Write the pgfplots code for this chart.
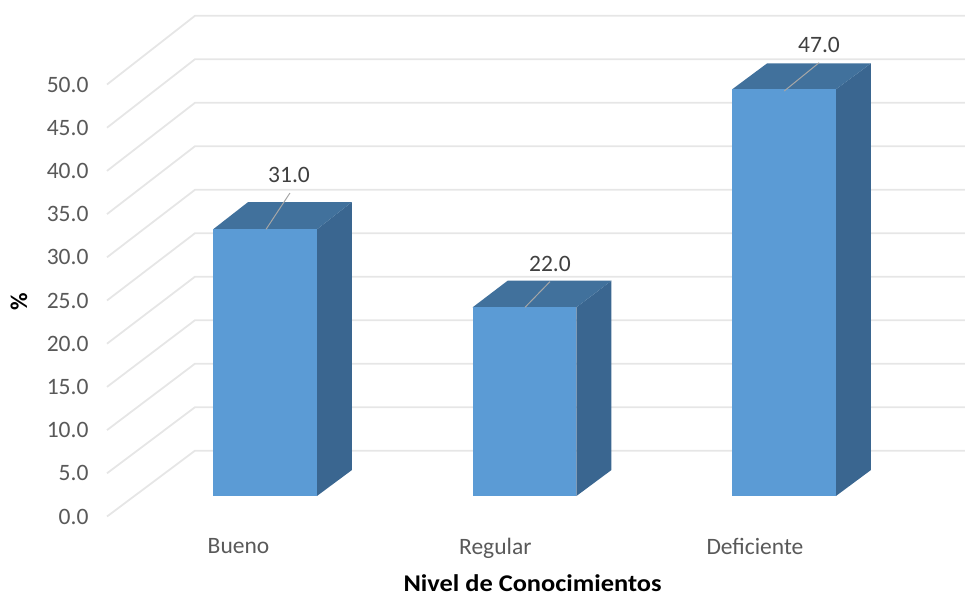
\documentclass[border=0pt]{standalone}
\usepackage{fontspec}
\setmainfont{Carlito}
\usepackage{pgfplots}
\pgfplotsset{compat=1.18}
\definecolor{barfront}{HTML}{5B9BD5}
\definecolor{bartop}{HTML}{41719C}
\definecolor{barside}{HTML}{3A6690}
\definecolor{gridc}{HTML}{E6E6E6}
\definecolor{ticktext}{HTML}{595959}
\definecolor{labtext}{HTML}{404040}
\definecolor{leader}{HTML}{A6A6A6}
\begin{document}
\begin{tikzpicture}
\path[use as bounding box] (0,0) rectangle (965pt,593pt);
\begin{axis}[
    at={(107pt,76.5pt)},
    anchor=south west,
    scale only axis,
    width=858pt,
    height=502.3pt,
    xmin=-0.6089, xmax=2.6975,
    ymin=0, ymax=58.14,
    clip=false,
    axis line style={draw=none},
    major tick length=0pt,
    xtick={-0.1021,0.8875,1.888},
    xticklabels={Bueno,Regular,Deficiente},
    ytick={0,5,...,50},
    /pgf/number format/assume math mode=true,
    /pgf/number format/fixed,
    /pgf/number format/fixed zerofill,
    /pgf/number format/precision=1,
    tick label style={font=\fontsize{23.5}{26}\selectfont, text=ticktext},
    y tick label style={xshift=-15pt},
    x tick label style={yshift=-18.5pt},
    xlabel={Nivel de Conocimientos},
    ylabel={\%},
    label style={font=\fontsize{24}{26}\selectfont\bfseries, text=black},
    xlabel style={at={(axis description cs:0.496,-0.1503)}, anchor=base, xscale=1.1},
    ylabel style={at={(axis description cs:-0.1026,0.427)}, anchor=center},
    unbounded coords=jump,
]
% gridlines: side wall then back wall
\addplot[gridc, line width=1.8pt] coordinates {
 (-0.6089,0) (-0.2697,7.62) (2.6975,7.62) (0,nan)
 (-0.6089,5) (-0.2697,12.65) (2.6975,12.65) (0,nan)
 (-0.6089,10) (-0.2697,17.69) (2.6975,17.69) (0,nan)
 (-0.6089,15) (-0.2697,22.72) (2.6975,22.72) (0,nan)
 (-0.6089,20) (-0.2697,27.76) (2.6975,27.76) (0,nan)
 (-0.6089,25) (-0.2697,32.79) (2.6975,32.79) (0,nan)
 (-0.6089,30) (-0.2697,37.82) (2.6975,37.82) (0,nan)
 (-0.6089,35) (-0.2697,42.86) (2.6975,42.86) (0,nan)
 (-0.6089,40) (-0.2697,47.89) (2.6975,47.89) (0,nan)
 (-0.6089,45) (-0.2697,52.93) (2.6975,52.93) (0,nan)
 (-0.6089,50) (-0.2697,57.96) (2.6975,57.96)
};
% Bueno 31.0
\addplot[fill=barside, draw=none] coordinates {(0.2,2.37) (0.335,5.38) (0.335,36.4) (0.2,33.24)} --cycle;
\addplot[fill=bartop, draw=none] coordinates {(-0.2,33.24) (0.2,33.24) (0.335,36.4) (-0.065,36.4)} --cycle;
\addplot[fill=barfront, draw=none] coordinates {(-0.2,2.37) (0.2,2.37) (0.2,33.24) (-0.2,33.24)} --cycle;
% Regular 22.0
\addplot[fill=barside, draw=none] coordinates {(1.2,2.37) (1.335,5.38) (1.335,27.29) (1.2,24.21)} --cycle;
\addplot[fill=bartop, draw=none] coordinates {(0.8,24.21) (1.2,24.21) (1.335,27.29) (0.935,27.29)} --cycle;
\addplot[fill=barfront, draw=none] coordinates {(0.8,2.37) (1.2,2.37) (1.2,24.21) (0.8,24.21)} --cycle;
% Deficiente 47.0
\addplot[fill=barside, draw=none] coordinates {(2.2,2.37) (2.335,5.38) (2.335,52.45) (2.2,49.44)} --cycle;
\addplot[fill=bartop, draw=none] coordinates {(1.8,49.44) (2.2,49.44) (2.335,52.45) (1.935,52.45)} --cycle;
\addplot[fill=barfront, draw=none] coordinates {(1.8,2.37) (2.2,2.37) (2.2,49.44) (1.8,49.44)} --cycle;
% leader lines
\addplot[leader, line width=1pt] coordinates {
 (0.004,33.24) (0.096,37.44) (0,nan)
 (1.002,24.21) (1.098,27.18) (0,nan)
 (2.001,49.25) (2.135,52.52)
};
% value labels
\addplot[draw=none, point meta=explicit symbolic,
    nodes near coords,
    nodes near coords style={anchor=center, inner sep=0pt,
        font=\fontsize{23.5}{26}\selectfont, text=labtext}]
 coordinates {(0.0925,39.53)[31.0] (1.098,29.28)[22.0] (2.135,54.63)[47.0]};
\end{axis}
\end{tikzpicture}
\end{document}
